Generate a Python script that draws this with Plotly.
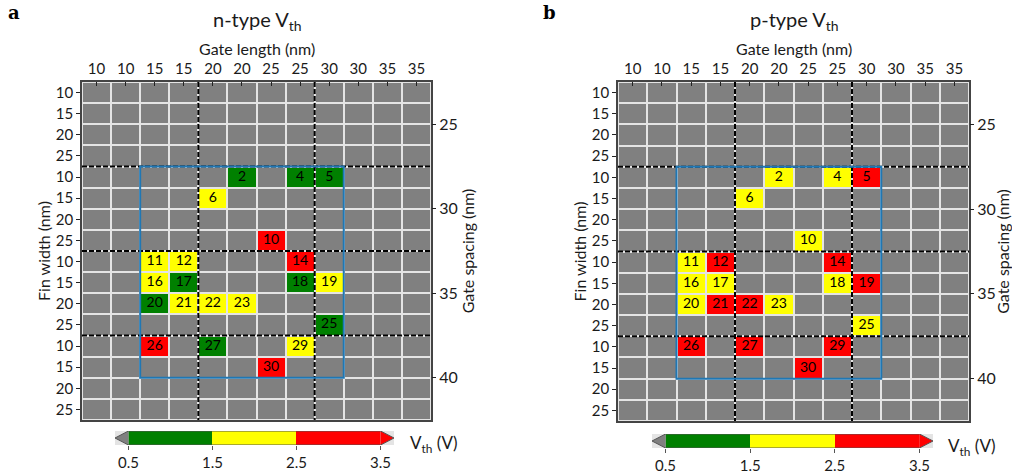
import plotly.graph_objects as go

W, H = 1012, 473

# ---------------- data ----------------
gate_length_labels = ["10", "10", "15", "15", "20", "20", "25", "25", "30", "30", "35", "35"]
fin_width_labels = ["10", "15", "20", "25"] * 4
gate_spacing = [25, 30, 35, 40]

devices = [2, 4, 5, 6, 10, 11, 12, 14, 16, 17, 18, 19, 20, 21, 22, 23, 25, 26, 27, 29, 30]
dev_row = [4, 4, 4, 5, 7, 8, 8, 8, 9, 9, 9, 9, 10, 10, 10, 10, 11, 12, 12, 12, 13]
dev_col = [5, 7, 8, 4, 6, 2, 3, 7, 2, 3, 7, 8, 2, 3, 4, 5, 8, 2, 4, 7, 6]

vth_n = [1.0, 1.0, 1.0, 2.0, 3.0, 2.0, 2.0, 3.0, 2.0, 1.0, 1.0, 2.0, 1.0, 2.0, 2.0, 2.0, 1.0, 3.0, 1.0, 2.0, 3.0]
vth_p = [2.0, 2.0, 3.0, 2.0, 2.0, 2.0, 3.0, 3.0, 2.0, 2.0, 2.0, 3.0, 2.0, 3.0, 3.0, 2.0, 2.0, 3.0, 3.0, 3.0, 3.0]

cbar_bounds = [0.5, 1.5, 2.5, 3.5]
cbar_colors = ["#008000", "#ffff00", "#ff0000"]
under_color = "#808080"
over_color = "#ff0000"

# measured region (blue box) in cell indices
box_cols = (2, 8)
box_rows = (4, 13)
group = 4

NC = len(gate_length_labels)
NR = len(fin_width_labels)

FONT = "Lato"

def fx(p):
    return p / W

def fy(p):
    return 1 - p / H

colorscale = []
n = len(cbar_colors)
for i, c in enumerate(cbar_colors):
    colorscale.append([i / n, c])
    colorscale.append([(i + 1) / n, c])

panels = [
    dict(label="a", title="n-type V<sub>th</sub>", vals=vth_n,
         plot=(82, 431, 82, 420), cbar=(115, 394, 431, 445),
         lab=(14, 13), ttl=(257, 20), cbt=(434, 444), ax=("", "", "2", "3")),
    dict(label="b", title="p-type V<sub>th</sub>", vals=vth_p,
         plot=(618, 969, 82, 421), cbar=(652, 933, 434, 448),
         lab=(549, 13), ttl=(794, 20), cbt=(972, 447), ax=("4", "4", "5", "6")),
]

fig = go.Figure()
layout = dict(width=W, height=H, margin=dict(l=0, r=0, t=0, b=0),
              paper_bgcolor="white", plot_bgcolor="#e4e4e4", showlegend=False,
              font=dict(family=FONT, size=15, color="#1a1a1a"))
shapes = []
annotations = []

tip = 0.16

for P in panels:
    xs, ys, y2s, cs = P["ax"]
    xa = "x" + xs
    ya = "y" + ys
    y2a = "y" + y2s
    xc = "x" + cs
    yc = "y" + cs
    x0p, x1p, y0p, y1p = P["plot"]

    # base grey grid
    fig.add_trace(go.Heatmap(
        x=list(range(NC)), y=list(range(NR)),
        z=[[0] * NC for _ in range(NR)], zmin=0, zmax=1,
        colorscale=[[0, under_color], [1, under_color]], showscale=False,
        xgap=2, ygap=2, hoverinfo="skip", xaxis=xa, yaxis=ya))

    # coloured devices
    z = [[None] * NC for _ in range(NR)]
    for r, c, v in zip(dev_row, dev_col, P["vals"]):
        z[r][c] = v
    fig.add_trace(go.Heatmap(
        x=list(range(NC)), y=list(range(NR)), z=z,
        zmin=cbar_bounds[0], zmax=cbar_bounds[-1], colorscale=colorscale,
        showscale=False, xgap=2, ygap=2, hoverinfo="skip", xaxis=xa, yaxis=ya))
    fig.add_trace(go.Scatter(
        x=dev_col, y=dev_row, text=[str(d) for d in devices], mode="text",
        textposition="middle center",
        textfont=dict(family=FONT, size=14, color="black"),
        hoverinfo="skip", xaxis=xa, yaxis=ya))

    # dummy trace for the right (gate spacing) axis
    fig.add_trace(go.Scatter(x=[(NC - 1) / 2] * len(gate_spacing), y=gate_spacing,
                             mode="markers", marker=dict(opacity=0), hoverinfo="skip",
                             xaxis=xa, yaxis=y2a))

    # colorbar
    mids = [(a + b) / 2 for a, b in zip(cbar_bounds[:-1], cbar_bounds[1:])]
    fig.add_trace(go.Heatmap(
        x=mids, y=[0], z=[mids], zmin=cbar_bounds[0], zmax=cbar_bounds[-1],
        colorscale=colorscale, showscale=False, hoverinfo="skip",
        xaxis=xc, yaxis=yc))
    lo, hi = cbar_bounds[0], cbar_bounds[-1]
    fig.add_trace(go.Scatter(x=[lo, lo - tip, lo, lo], y=[-0.5, 0, 0.5, -0.5],
                             fill="toself", fillcolor=under_color, mode="lines",
                             line=dict(width=0), hoverinfo="skip", cliponaxis=False,
                             xaxis=xc, yaxis=yc))
    fig.add_trace(go.Scatter(x=[hi, hi + tip, hi, hi], y=[-0.5, 0, 0.5, -0.5],
                             fill="toself", fillcolor=over_color, mode="lines",
                             line=dict(width=0), hoverinfo="skip", cliponaxis=False,
                             xaxis=xc, yaxis=yc))
    fig.add_trace(go.Scatter(x=[lo - tip, lo, hi, hi + tip, hi, lo, lo - tip],
                             y=[0, 0.5, 0.5, 0, -0.5, -0.5, 0],
                             mode="lines", line=dict(color="#555", width=1),
                             hoverinfo="skip", cliponaxis=False, xaxis=xc, yaxis=yc))

    dom_x = [fx(x0p), fx(x1p)]
    dom_y = [fy(y1p), fy(y0p)]
    layout["xaxis" + xs] = dict(
        domain=dom_x, anchor=ya, side="top",
        range=[-0.5, NC - 0.5], tickmode="array", tickvals=list(range(NC)),
        ticktext=gate_length_labels, ticks="inside", ticklen=4, tickcolor="#222",
        showgrid=False, zeroline=False, showline=True, mirror=True,
        linecolor="#444", linewidth=1.5, tickfont=dict(size=15))
    layout["yaxis" + ys] = dict(
        domain=dom_y, anchor=xa, range=[NR - 0.5, -0.5], tickmode="array",
        tickvals=list(range(NR)), ticktext=fin_width_labels, ticks="outside",
        ticklen=4, tickcolor="#222", showgrid=False, zeroline=False,
        showline=True, mirror=True, linecolor="#444", linewidth=1.5,
        title=dict(text="Fin width (nm)", standoff=1, font=dict(size=16)),
        tickfont=dict(size=15))
    step = 5
    half = step / 2
    layout["yaxis" + y2s] = dict(
        overlaying=ya, anchor=xa, side="right",
        range=[gate_spacing[-1] + half, gate_spacing[0] - half],
        tickmode="array", tickvals=gate_spacing, ticks="outside", ticklen=4,
        tickcolor="#222", showgrid=False, zeroline=False,
        title=dict(text="Gate spacing (nm)", standoff=5, font=dict(size=16)),
        tickfont=dict(size=16))
    cx0, cx1, cy0, cy1 = P["cbar"]
    layout["xaxis" + cs] = dict(
        domain=[fx(cx0), fx(cx1)], anchor=yc, range=[lo - tip, hi + tip],
        tickmode="array", tickvals=cbar_bounds,
        ticktext=[str(b) for b in cbar_bounds], ticks="outside", ticklen=4,
        tickcolor="#555", showgrid=False, zeroline=False, showline=False,
        tickfont=dict(size=15))
    layout["yaxis" + cs] = dict(
        domain=[fy(cy1), fy(cy0)], anchor=xc, range=[-0.5, 0.5],
        showticklabels=False, ticks="", showgrid=False, zeroline=False)

    # group dividers
    for g in range(1, NC // group):
        shapes.append(dict(type="line", xref=xa, yref=ya, x0=g * group - 0.5,
                           x1=g * group - 0.5, y0=-0.5, y1=NR - 0.5,
                           line=dict(color="black", width=2, dash="5px,2px")))
    for g in range(1, NR // group):
        shapes.append(dict(type="line", xref=xa, yref=ya, y0=g * group - 0.5,
                           y1=g * group - 0.5, x0=-0.5, x1=NC - 0.5,
                           line=dict(color="black", width=2, dash="5px,2px")))
    shapes.append(dict(type="rect", xref=xa, yref=ya,
                       x0=box_cols[0] - 0.5, x1=box_cols[1] + 0.5,
                       y0=box_rows[0] - 0.5, y1=box_rows[1] + 0.5,
                       line=dict(color="#1f77b4", width=2), fillcolor="rgba(0,0,0,0)"))

    annotations.append(dict(text="Gate length (nm)", x=fx((x0p + x1p) / 2), y=fy(49),
                            xref="paper", yref="paper", showarrow=False,
                            xanchor="center", yanchor="middle",
                            font=dict(size=16, family=FONT, color="#1a1a1a")))
    annotations.append(dict(text=P["title"], x=fx(P["ttl"][0]), y=fy(P["ttl"][1]),
                            xref="paper", yref="paper", showarrow=False,
                            xanchor="center", yanchor="middle",
                            font=dict(size=20, family=FONT, color="#1a1a1a")))
    annotations.append(dict(text="<b>" + P["label"] + "</b>", x=fx(P["lab"][0]),
                            y=fy(P["lab"][1]), xref="paper", yref="paper",
                            showarrow=False, xanchor="center", yanchor="middle",
                            font=dict(size=18, family="DejaVu Serif", color="black")))
    annotations.append(dict(text="V<sub>th</sub> (V)", x=fx(P["cbt"][0]),
                            y=fy(P["cbt"][1]), xref="paper", yref="paper",
                            showarrow=False, xanchor="center", yanchor="middle",
                            font=dict(size=17, family=FONT, color="#1a1a1a")))

layout["shapes"] = shapes
layout["annotations"] = annotations
fig.update_layout(**layout)
fig.write_html("out.html")
